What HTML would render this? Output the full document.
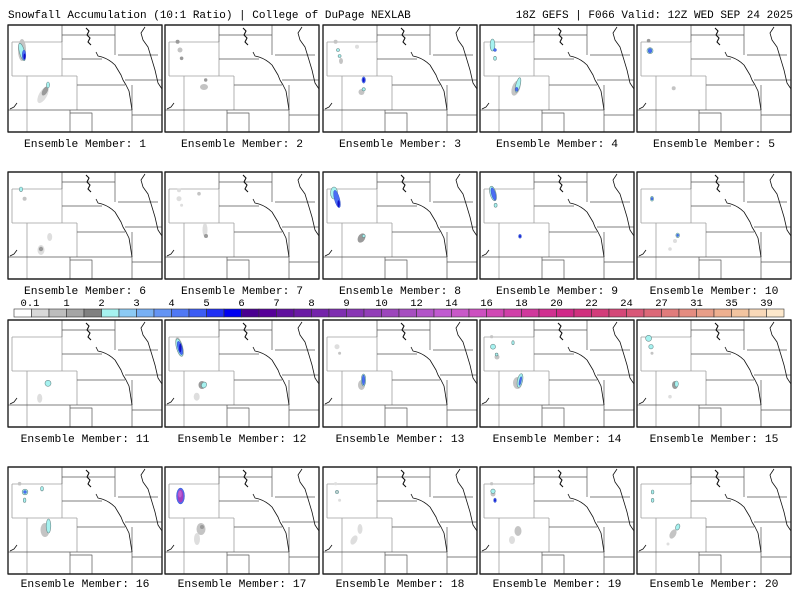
<!DOCTYPE html>
<html><head><meta charset="utf-8"><style>
html,body{margin:0;padding:0;background:#fff;width:800px;height:600px;overflow:hidden}
svg{display:block}
text{font-family:"Liberation Mono",monospace;fill:#000}
.g1{fill:#dedede}.g2{fill:#c4c4c4}.g3{fill:#9a9a9a}
.c{fill:#a6f2f0;stroke:#6a8a8a;stroke-width:.6}
.b{fill:#4a6cf4;stroke:#3050c0;stroke-width:.4}
.d{fill:#1010c8}
.p{fill:#a040c0}
</style></head><body>
<svg width="800" height="600" viewBox="0 0 800 600" xmlns="http://www.w3.org/2000/svg">
<defs>
<g id="map" fill="none" stroke-linejoin="round">
<g stroke="#a0a0a0" stroke-width=".8">
<path d="M4,17H54M4,17V51M4,51H69M19,51V107M69,51V85M54,17V51"/>
</g>
<g stroke="#555" stroke-width=".7">
<path d="M54,0V17M0,85H124M124,90H154M62,85V107M62,88H84V107M54,10H107M107,0V30M110,30H150M54,34H94M69,60H117M117,55H154M124,60V107"/>
</g>
<g stroke="#111" stroke-width=".8">
<path d="M94,32C100,34 104,37 107,40L110,45L113,50L115,55L118,60L121,66L122,72L124,85"/>
<path d="M137,2L133,8L135,15L140,22L144,35L147,45L150,58L154,64"/>
<path d="M78,3L81,6L79,10L82,13L80,17L83,20" stroke-width="1.1"/>
<path d="M88,27L90,31L94,32"/>
<path d="M2,84L6,82L9,78"/>
</g>
<rect x="0" y="0" width="154" height="107" stroke="#222" stroke-width="1.4"/>
</g>
</defs>
<rect width="800" height="600" fill="#fff"/>
<text x="8" y="18" font-size="11">Snowfall Accumulation (10:1 Ratio) | College of DuPage NEXLAB</text>
<text x="793" y="18" font-size="11" text-anchor="end">18Z GEFS | F066 Valid: 12Z WED SEP 24 2025</text>

<!-- Row 1 -->
<g transform="translate(8,25)"><use href="#map"/>
<ellipse class="g2" cx="14" cy="25" rx="4" ry="11"/><ellipse class="c" cx="14" cy="27" rx="2.6" ry="9" transform="rotate(-15 14 27)"/><ellipse class="b" cx="16" cy="30" rx="1.8" ry="5"/><ellipse class="d" cx="16.5" cy="31.5" rx="1" ry="3"/>
<ellipse class="g1" cx="35" cy="70" rx="4" ry="9" transform="rotate(30 35 70)"/><ellipse class="g3" cx="37" cy="66" rx="2.5" ry="5" transform="rotate(30 37 66)"/><ellipse class="c" cx="40" cy="60" rx="1.5" ry="3"/>
</g>
<g transform="translate(165,25)"><use href="#map"/>
<circle class="g3" cx="12.6" cy="16.7" r="2"/><circle class="g2" cx="15" cy="25" r="2.5"/><circle class="g3" cx="16.6" cy="33.3" r="1.8"/><circle class="g3" cx="40.7" cy="55" r="1.7"/><ellipse class="g2" cx="39" cy="62" rx="4" ry="3"/>
</g>
<g transform="translate(323,25)"><use href="#map"/>
<circle class="g2" cx="12.6" cy="16.7" r="2"/><circle class="c" cx="15" cy="25" r="1.5"/><circle class="g1" cx="34" cy="21.7" r="2"/><circle class="c" cx="16.6" cy="31" r="1.5"/><ellipse class="g2" cx="18" cy="36" rx="2" ry="3"/>
<ellipse class="b" cx="40.7" cy="55" rx="1.8" ry="3.2"/><ellipse class="d" cx="40.7" cy="55" rx="1" ry="2"/><ellipse class="g2" cx="38.5" cy="67" rx="3" ry="3"/><circle class="c" cx="40.7" cy="64.3" r="1.6"/>
</g>
<g transform="translate(480,25)"><use href="#map"/>
<ellipse class="c" cx="12.5" cy="20" rx="2.4" ry="6"/><circle class="b" cx="15" cy="25" r="1.5"/><ellipse class="c" cx="15" cy="33.3" rx="1.4" ry="2"/>
<ellipse class="g2" cx="36" cy="63" rx="4" ry="8" transform="rotate(20 36 63)"/><ellipse class="c" cx="38" cy="60" rx="2.2" ry="7.5" transform="rotate(15 38 60)"/><ellipse class="b" cx="36.7" cy="64.3" rx="1.3" ry="2"/>
</g>
<g transform="translate(637,25)"><use href="#map"/>
<circle class="g3" cx="11.6" cy="15.7" r="1.8"/><ellipse class="c" cx="13" cy="25.7" rx="3" ry="3"/><ellipse class="b" cx="13" cy="25.7" rx="1.8" ry="2.2"/><circle class="g2" cx="36.7" cy="63.3" r="2"/>
</g>

<!-- Row 2 -->
<g transform="translate(8,172)"><use href="#map"/>
<ellipse class="c" cx="13" cy="17.3" rx="1.7" ry="2.3"/><circle class="g2" cx="16.6" cy="26.7" r="2"/><ellipse class="g1" cx="41.7" cy="65" rx="2.5" ry="4"/><ellipse class="g1" cx="33" cy="78" rx="3.5" ry="5"/><circle class="g3" cx="33" cy="77" r="2.2"/>
</g>
<g transform="translate(165,172)"><use href="#map"/>
<circle class="g1" cx="14" cy="18.3" r="2"/><circle class="g2" cx="34" cy="21.7" r="1.8"/><circle class="g1" cx="14" cy="26.7" r="2.5"/><circle class="g1" cx="16.6" cy="33.3" r="1.5"/>
<ellipse class="g1" cx="40" cy="58" rx="2.5" ry="7"/><circle class="g3" cx="41" cy="64" r="2"/>
</g>
<g transform="translate(323,172)"><use href="#map"/>
<ellipse class="c" cx="11" cy="21" rx="3.5" ry="6"/><ellipse class="b" cx="14" cy="27" rx="2.6" ry="9" transform="rotate(-15 14 27)"/><ellipse class="d" cx="15.6" cy="31.7" rx="1.2" ry="3.5"/>
<ellipse class="g3" cx="38.5" cy="66" rx="3.5" ry="5" transform="rotate(30 38.5 66)"/><circle class="c" cx="40.7" cy="64" r="1.5"/>
</g>
<g transform="translate(480,172)"><use href="#map"/>
<ellipse class="c" cx="13" cy="21.5" rx="3" ry="7.5" transform="rotate(-15 13 21.5)"/><ellipse class="b" cx="13.5" cy="22" rx="2" ry="6.5" transform="rotate(-15 13.5 22)"/><ellipse class="c" cx="15.6" cy="33.3" rx="1.5" ry="2"/><ellipse class="b" cx="40" cy="64.3" rx="1.5" ry="2"/><ellipse class="d" cx="40" cy="64.3" rx=".8" ry="1.2"/>
</g>
<g transform="translate(637,172)"><use href="#map"/>
<ellipse class="c" cx="15" cy="26.7" rx="1.6" ry="2.4"/><ellipse class="b" cx="15" cy="26.7" rx=".9" ry="1.4"/><ellipse class="c" cx="40.7" cy="63.3" rx="1.8" ry="2.3"/><ellipse class="b" cx="40.7" cy="63.3" rx="1" ry="1.3"/><circle class="g1" cx="38" cy="69" r="2"/><circle class="g1" cx="33" cy="77" r="1.8"/>
</g>

<!-- Row 3 -->
<g transform="translate(8,320)"><use href="#map"/>
<circle class="c" cx="40" cy="63.3" r="3"/><ellipse class="g1" cx="31.7" cy="78.3" rx="2.6" ry="4.5"/>
</g>
<g transform="translate(165,320)"><use href="#map"/>
<ellipse class="g2" cx="14.5" cy="27" rx="3.5" ry="10" transform="rotate(-15 14.5 27)"/><ellipse class="c" cx="14.5" cy="27.5" rx="3" ry="9" transform="rotate(-15 14.5 27.5)"/><ellipse class="b" cx="15" cy="28" rx="2.2" ry="7" transform="rotate(-15 15 28)"/><ellipse class="d" cx="15.3" cy="28" rx="1.2" ry="4.5"/>
<ellipse class="g3" cx="37" cy="65" rx="3.5" ry="4"/><ellipse class="c" cx="39" cy="65" rx="2.5" ry="3" transform="rotate(30 39 65)"/><ellipse class="g1" cx="31.7" cy="76.7" rx="3" ry="4"/>
</g>
<g transform="translate(323,320)"><use href="#map"/>
<circle class="g1" cx="14" cy="26.7" r="2.5"/><circle class="g2" cx="16.6" cy="33.3" r="1.5"/><ellipse class="g2" cx="38.5" cy="65" rx="3.5" ry="5"/><ellipse class="c" cx="40.5" cy="60" rx="2.2" ry="6"/><ellipse class="b" cx="40.5" cy="60" rx="1.3" ry="5"/>
</g>
<g transform="translate(480,320)"><use href="#map"/>
<circle class="g2" cx="11.6" cy="16.7" r="1.6"/><circle class="c" cx="13" cy="26.7" r="2.5"/><ellipse class="c" cx="33" cy="22.7" rx="1.2" ry="2"/><circle class="g2" cx="17" cy="37" r="2.5"/><circle class="c" cx="16.6" cy="34.5" r="1.4"/>
<ellipse class="g2" cx="37.5" cy="63" rx="4.5" ry="6"/><ellipse class="c" cx="40" cy="60.5" rx="2.6" ry="7" transform="rotate(12 40 60.5)"/><ellipse class="b" cx="40.3" cy="61" rx="1" ry="4.5" transform="rotate(12 40.3 61)"/>
</g>
<g transform="translate(637,320)"><use href="#map"/>
<circle class="c" cx="11.6" cy="18.3" r="3"/><circle class="c" cx="14" cy="26.7" r="2.2"/><circle class="g2" cx="15" cy="33.3" r="1.5"/><ellipse class="g3" cx="38" cy="65" rx="3" ry="4"/><ellipse class="c" cx="39.5" cy="64" rx="1.8" ry="3"/><circle class="g1" cx="33" cy="76.7" r="1.8"/>
</g>

<!-- Row 4 -->
<g transform="translate(8,467)"><use href="#map"/>
<circle class="g2" cx="11.6" cy="16.7" r="1.8"/><circle class="c" cx="17" cy="25" r="2.8"/><circle class="b" cx="17" cy="25" r="1.5"/><ellipse class="c" cx="34" cy="21.7" rx="1.4" ry="2.2"/><ellipse class="c" cx="16.6" cy="33.3" rx="1.3" ry="2.2"/>
<ellipse class="g2" cx="37" cy="63" rx="4.5" ry="7"/><ellipse class="c" cx="40.5" cy="59" rx="2.3" ry="7"/>
</g>
<g transform="translate(165,467)"><use href="#map"/>
<ellipse class="b" cx="15.5" cy="29" rx="4" ry="8"/><ellipse class="p" cx="15.5" cy="29" rx="3" ry="6.5"/><ellipse fill="#c060d0" cx="15" cy="27" rx="1.8" ry="3.5"/>
<ellipse class="g2" cx="36" cy="62" rx="4.5" ry="6"/><circle class="g3" cx="37" cy="60" r="2"/><ellipse class="g1" cx="32" cy="72" rx="3" ry="6"/>
</g>
<g transform="translate(323,467)"><use href="#map"/>
<circle class="g1" cx="12.6" cy="16.7" r="1.6"/><circle class="c" cx="14" cy="25" r="1.6"/><circle class="g2" cx="14" cy="25" r="1"/><circle class="g1" cx="16.6" cy="33.3" r="1.5"/>
<ellipse class="g1" cx="37" cy="62" rx="2.5" ry="5"/><ellipse class="g1" cx="31" cy="73" rx="3" ry="5" transform="rotate(30 31 73)"/>
</g>
<g transform="translate(480,467)"><use href="#map"/>
<circle class="g2" cx="11.6" cy="16.7" r="1.6"/><circle class="g2" cx="13" cy="27" r="2.5"/><circle class="c" cx="13" cy="24.3" r="2.2"/><ellipse class="b" cx="15" cy="33.3" rx="1.4" ry="2.2"/><ellipse class="d" cx="15" cy="33.3" rx=".8" ry="1.3"/>
<ellipse class="g2" cx="38" cy="64" rx="3.5" ry="5"/><ellipse class="g1" cx="32" cy="73" rx="3" ry="4"/>
</g>
<g transform="translate(637,467)"><use href="#map"/>
<ellipse class="c" cx="15.6" cy="25" rx="1.3" ry="2"/><ellipse class="c" cx="15.6" cy="33.3" rx="1.3" ry="2"/>
<ellipse class="g2" cx="36" cy="67" rx="3" ry="5" transform="rotate(30 36 67)"/><ellipse class="c" cx="40.7" cy="60" rx="2" ry="3.2" transform="rotate(20 40.7 60)"/><circle class="g1" cx="31" cy="77" r="1.5"/>
</g>

<!-- Labels -->
<g font-size="11.3" text-anchor="middle">
<text x="85" y="147">Ensemble Member: 1</text><text x="242" y="147">Ensemble Member: 2</text><text x="400" y="147">Ensemble Member: 3</text><text x="557" y="147">Ensemble Member: 4</text><text x="714" y="147">Ensemble Member: 5</text>
<text x="85" y="294">Ensemble Member: 6</text><text x="242" y="294">Ensemble Member: 7</text><text x="400" y="294">Ensemble Member: 8</text><text x="557" y="294">Ensemble Member: 9</text><text x="714" y="294">Ensemble Member: 10</text>
<text x="85" y="442">Ensemble Member: 11</text><text x="242" y="442">Ensemble Member: 12</text><text x="400" y="442">Ensemble Member: 13</text><text x="557" y="442">Ensemble Member: 14</text><text x="714" y="442">Ensemble Member: 15</text>
<text x="85" y="587">Ensemble Member: 16</text><text x="242" y="587">Ensemble Member: 17</text><text x="400" y="587">Ensemble Member: 18</text><text x="557" y="587">Ensemble Member: 19</text><text x="714" y="587">Ensemble Member: 20</text>
</g>

<!-- Colorbar -->
<g stroke="#333" stroke-width=".6">
<rect x="14" y="309" width="17.5" height="8" fill="#ffffff"/>
<rect x="31.5" y="309" width="17.5" height="8" fill="#d9d9d9"/>
<rect x="49" y="309" width="17.5" height="8" fill="#bdbdbd"/>
<rect x="66.5" y="309" width="17.5" height="8" fill="#a5a5a5"/>
<rect x="84" y="309" width="17.5" height="8" fill="#808080"/>
<rect x="101.5" y="309" width="17.5" height="8" fill="#a6f2f0"/>
<rect x="119" y="309" width="17.5" height="8" fill="#8ccaf4"/>
<rect x="136.5" y="309" width="17.5" height="8" fill="#78b0f4"/>
<rect x="154" y="309" width="17.5" height="8" fill="#6494f4"/>
<rect x="171.5" y="309" width="17.5" height="8" fill="#5078f4"/>
<rect x="189" y="309" width="17.5" height="8" fill="#3c5cf4"/>
<rect x="206.5" y="309" width="17.5" height="8" fill="#2030f4"/>
<rect x="224" y="309" width="17.5" height="8" fill="#0000f0"/>
<rect x="241.5" y="309" width="17.5" height="8" fill="#4a0090"/>
<rect x="259" y="309" width="17.5" height="8" fill="#560098"/>
<rect x="276.5" y="309" width="17.5" height="8" fill="#60109e"/>
<rect x="294" y="309" width="17.5" height="8" fill="#6a1aa4"/>
<rect x="311.5" y="309" width="17.5" height="8" fill="#7424aa"/>
<rect x="329" y="309" width="17.5" height="8" fill="#7e2eb0"/>
<rect x="346.5" y="309" width="17.5" height="8" fill="#8836b4"/>
<rect x="364" y="309" width="17.5" height="8" fill="#923eb8"/>
<rect x="381.5" y="309" width="17.5" height="8" fill="#9c46bc"/>
<rect x="399" y="309" width="17.5" height="8" fill="#a64ec0"/>
<rect x="416.5" y="309" width="17.5" height="8" fill="#b254c8"/>
<rect x="434" y="309" width="17.5" height="8" fill="#c05ad0"/>
<rect x="451.5" y="309" width="17.5" height="8" fill="#c858c8"/>
<rect x="469" y="309" width="17.5" height="8" fill="#cc50c0"/>
<rect x="486.5" y="309" width="17.5" height="8" fill="#d048b4"/>
<rect x="504" y="309" width="17.5" height="8" fill="#d040a8"/>
<rect x="521.5" y="309" width="17.5" height="8" fill="#d0389c"/>
<rect x="539" y="309" width="17.5" height="8" fill="#d03090"/>
<rect x="556.5" y="309" width="17.5" height="8" fill="#d02888"/>
<rect x="574" y="309" width="17.5" height="8" fill="#d0307e"/>
<rect x="591.5" y="309" width="17.5" height="8" fill="#d23c7a"/>
<rect x="609" y="309" width="17.5" height="8" fill="#d44878"/>
<rect x="626.5" y="309" width="17.5" height="8" fill="#d85878"/>
<rect x="644" y="309" width="17.5" height="8" fill="#dc6878"/>
<rect x="661.5" y="309" width="17.5" height="8" fill="#e07c7c"/>
<rect x="679" y="309" width="17.5" height="8" fill="#e48c80"/>
<rect x="696.5" y="309" width="17.5" height="8" fill="#e89e88"/>
<rect x="714" y="309" width="17.5" height="8" fill="#eeb090"/>
<rect x="731.5" y="309" width="17.5" height="8" fill="#f2c4a0"/>
<rect x="749" y="309" width="17.5" height="8" fill="#f8d8b8"/>
<rect x="766.5" y="309" width="17.5" height="8" fill="#fde8cc"/>
</g>
<g font-size="10.5" text-anchor="middle">
<text x="30" y="306">0.1</text><text x="66.5" y="306">1</text><text x="101.5" y="306">2</text><text x="136.5" y="306">3</text><text x="171.5" y="306">4</text><text x="206.5" y="306">5</text><text x="241.5" y="306">6</text><text x="276.5" y="306">7</text><text x="311.5" y="306">8</text><text x="346.5" y="306">9</text><text x="381.5" y="306">10</text><text x="416.5" y="306">12</text><text x="451.5" y="306">14</text><text x="486.5" y="306">16</text><text x="521.5" y="306">18</text><text x="556.5" y="306">20</text><text x="591.5" y="306">22</text><text x="626.5" y="306">24</text><text x="661.5" y="306">27</text><text x="696.5" y="306">31</text><text x="731.5" y="306">35</text><text x="766.5" y="306">39</text>
</g>
</svg>
</body></html>
